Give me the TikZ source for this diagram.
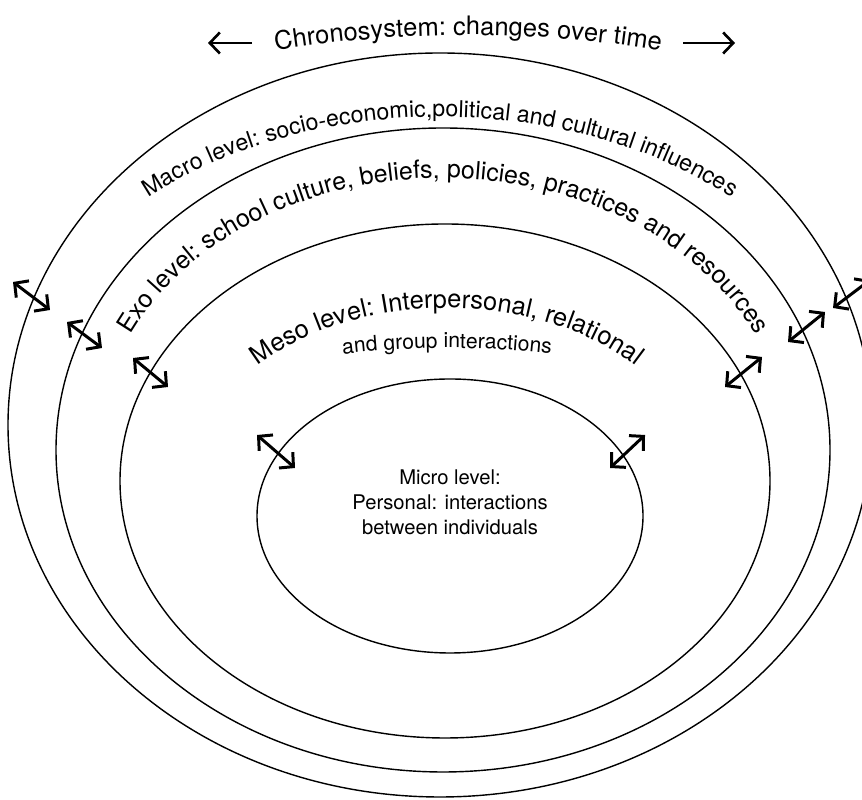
\documentclass[tikz,border=0pt]{standalone}
\usepackage{fontspec}
\setmainfont{TeX Gyre Heros}
\usetikzlibrary{calc,arrows.meta,decorations.text}
\tikzset{
	levelline/.style={line width=0.8pt},
	levelarrow/.style={line width=1.7pt,{Straight Barb[length=2mm,width=4.2mm]}-{Straight Barb[length=2mm,width=4.2mm]}},
	timearrow/.style={line width=1.5pt,-{Straight Barb[length=2mm,width=4.2mm]}}
}
\def\arclabel(#1)(#2:#3:#4:#5)#6{\path[decorate,decoration={text along path,text align=center,text={#6}}] ($(#1)+({#4*cos(#2)},{#5*sin(#2)})$) arc (#2:#3:#4 and #5);}

\begin{document}
\begin{tikzpicture}[x=0.02cm,y=0.02cm]
		%%%%% START %%%%%
		\useasboundingbox (0,0) rectangle (862,800);
		\clip (0,0) rectangle (862,800);
		
		\draw[levelline] (440,375) ellipse (432 and 372);
		\draw[levelline] (443,350) ellipse (387 and 322);
		\draw[levelline] (445,319) ellipse (325 and 257);
		\draw[levelline] (450,284) ellipse (193 and 137);
		
		\draw[timearrow] (252,757) -- (208,757);
		\draw[timearrow] (683,757) -- (735,757);
		\arclabel(468,-423)(101:79:1188:1188){|\fontsize{14.5}{17}\selectfont|Chronosystem: changes over time}
		
		\arclabel(440,375)(160:20:433:308){|\fontsize{13.2}{16}\selectfont|Macro level: socio-economic,political and cultural influences}
		\arclabel(443,350)(170:10:345:272){|\fontsize{14.2}{16}\selectfont|Exo level: school culture, beliefs, policies, practices and resources}
		\arclabel(447,318)(160:20:254:174){|\fontsize{14.5}{17}\selectfont|Meso level: Interpersonal, relational}
		\arclabel(447,318)(130:50:350:134){|\fontsize{12}{14}\selectfont|and group interactions}
		
		\node[font=\fontsize{11.5}{14.2}\selectfont, align=center] (microtext) at (450,298) {Micro level:\\Personal: interactions\\between individuals};
		
		\draw[levelarrow] (13,518) -- (50,490);
		\draw[levelarrow] (67,478) -- (102,452);
		\draw[levelarrow] (133,442) -- (168,413);
		\draw[levelarrow] (257,365) -- (295,332);
		\draw[levelarrow] (610,332) -- (645,365);
		\draw[levelarrow] (725,413) -- (762,443);
		\draw[levelarrow] (788,458) -- (825,488);
		\draw[levelarrow] (833,492) -- (870,520);
		%%%%% END %%%%%
	\end{tikzpicture}
\end{document}
